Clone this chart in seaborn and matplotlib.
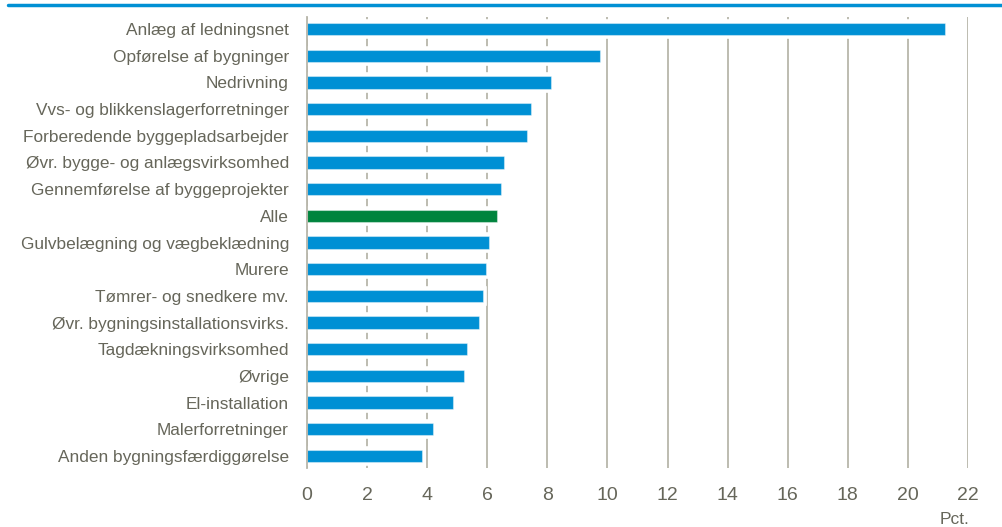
import seaborn as sns
import pandas as pd
import numpy as np
import matplotlib.pyplot as plt
from matplotlib import font_manager
from matplotlib.lines import Line2D

categories = [
    "Anlæg af ledningsnet",
    "Opførelse af bygninger",
    "Nedrivning",
    "Vvs- og blikkenslagerforretninger",
    "Forberedende byggepladsarbejder",
    "Øvr. bygge- og anlægsvirksomhed",
    "Gennemførelse af byggeprojekter",
    "Alle",
    "Gulvbelægning og vægbeklædning",
    "Murere",
    "Tømrer- og snedkere mv.",
    "Øvr. bygningsinstallationsvirks.",
    "Tagdækningsvirksomhed",
    "Øvrige",
    "El-installation",
    "Malerforretninger",
    "Anden bygningsfærdiggørelse",
]
values = [21.25, 9.75, 8.11, 7.46, 7.31, 6.55, 6.46, 6.33, 6.07, 5.96,
          5.86, 5.74, 5.31, 5.24, 4.86, 4.18, 3.83]
xticks = list(range(0, 24, 2))

blue = "#0090d4"
green = "#00843d"
text_col = "#66665a"
grid_col = "#b8b6aa"

colors = {c: (green if c == "Alle" else blue) for c in categories}
df = pd.DataFrame({"kategori": categories, "pct": values})

sns.set_style("white")
names = {f.name for f in font_manager.fontManager.ttflist}
narrow = "Liberation Sans Narrow" if "Liberation Sans Narrow" in names else "Liberation Sans"
plt.rcParams["font.family"] = ["Liberation Sans", "DejaVu Sans"]

fig = plt.figure(figsize=(10.03, 5.27), dpi=100)
ax = fig.add_axes([307 / 1003, 1 - 468 / 527, (968 - 307) / 1003, (468 - 17) / 527])

# white halo behind the bars (cuts the gridlines like in the original)
sns.barplot(data=df, x="pct", y="kategori", color="white", edgecolor="white",
            linewidth=5.5, width=0.46, orient="h", ax=ax, zorder=2)
sns.barplot(data=df, x="pct", y="kategori", hue="kategori", palette=colors,
            legend=False, width=0.46, orient="h", ax=ax, zorder=3,
            saturation=1, edgecolor=(1, 1, 1, 0.4), linewidth=0.8)

ax.set_xlim(0, 22)
ax.set_ylim(len(categories) - 0.55, -0.45)
ax.set_xticks(xticks)
ax.set_xlabel("")
ax.set_ylabel("")
ax.grid(axis="x", color=grid_col, linewidth=1.3)
ax.grid(axis="y", visible=False)
ax.set_axisbelow(True)
for s in ["top", "right", "bottom"]:
    ax.spines[s].set_visible(False)
ax.spines["left"].set_color(grid_col)
ax.spines["left"].set_linewidth(1.3)
ax.spines["left"].set_zorder(4)

ax.tick_params(axis="y", length=0, pad=13, labelsize=12.4, labelcolor=text_col)
ax.tick_params(axis="x", length=0, pad=14, labelsize=14, labelcolor=text_col)
for lab in ax.get_xticklabels():
    lab.set_family(narrow)

fig.add_artist(Line2D([8 / 1003, 1], [1 - 5 / 527] * 2, color=blue, linewidth=2.5))
fig.text(955 / 1003, 1 - 519 / 527, "Pct.", ha="center", va="center",
         fontsize=12.5, color=text_col, family=narrow)

fig.savefig("out.png", dpi=100)
